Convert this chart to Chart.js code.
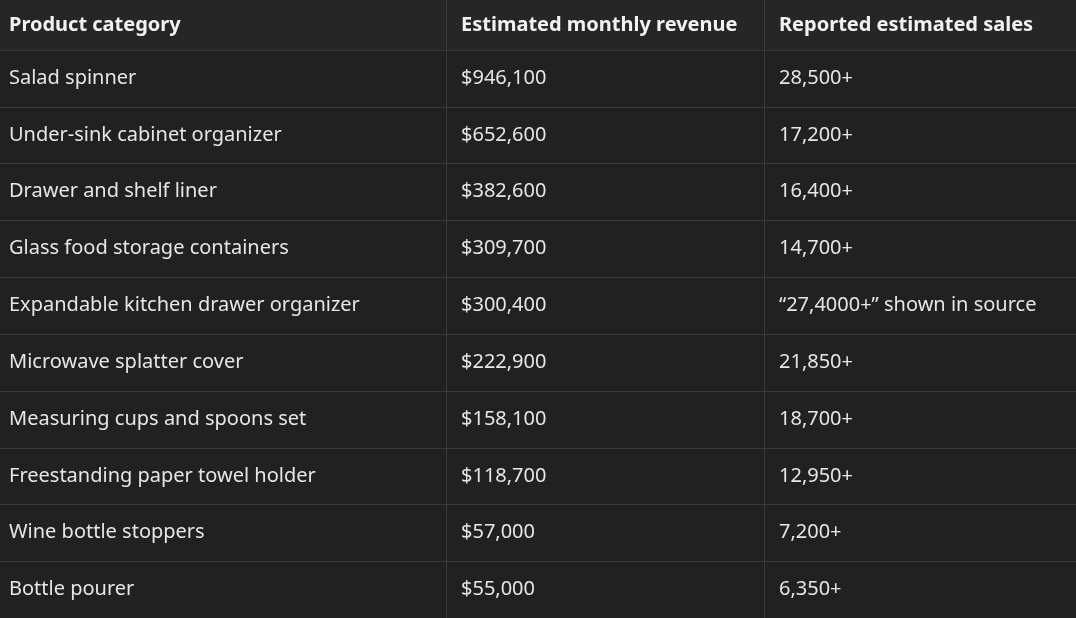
<!DOCTYPE html>
<html><head><meta charset="utf-8">
<script src="https://cdn.jsdelivr.net/npm/chart.js@4"></script>
<style>html,body{margin:0;padding:0;background:#212121;}#w{width:1076px;height:618px;}</style>
</head><body><div id="w"><canvas id="c"></canvas></div>
<script>
const headers = ["Product category", "Estimated monthly revenue", "Reported estimated sales"];
const categories = ["Salad spinner","Under-sink cabinet organizer","Drawer and shelf liner","Glass food storage containers","Expandable kitchen drawer organizer","Microwave splatter cover","Measuring cups and spoons set","Freestanding paper towel holder","Wine bottle stoppers","Bottle pourer"];
const revenue = [946100,652600,382600,309700,300400,222900,158100,118700,57000,55000];
const salesLabels = ["28,500+","17,200+","16,400+","14,700+","\u201c27,4000+\u201d shown in source","21,850+","18,700+","12,950+","7,200+","6,350+"];
const colEdges = [0, 446, 764, 1076];
const fmt = v => "$" + v.toLocaleString("en-US");
const tablePlugin = {
  id: "table",
  afterDraw(chart) {
    const ctx = chart.ctx, x = chart.scales.x, y = chart.scales.y;
    const X = v => x.getPixelForValue(v), Y = v => y.getPixelForValue(v);
    ctx.save();
    ctx.fillStyle = "#262626";
    ctx.fillRect(X(0), Y(-0.875), X(1076) - X(0), Y(0) - Y(-0.875));
    ctx.strokeStyle = "#3a3a3a"; ctx.lineWidth = 1;
    for (let i = 0; i <= categories.length; i++) {
      const py = Math.round(Y(i)) + 0.5;
      ctx.beginPath(); ctx.moveTo(X(0), py); ctx.lineTo(X(1076), py); ctx.stroke();
    }
    [1, 2].forEach(k => { const px = Math.round(X(colEdges[k])) + 0.5; ctx.beginPath(); ctx.moveTo(px, Y(-0.875)); ctx.lineTo(px, Y(10)); ctx.stroke(); });
    ctx.textBaseline = "middle";
    ctx.fillStyle = "#f2f2f2"; ctx.font = "bold 20px 'Noto Sans'";
    headers.forEach((h, k) => ctx.fillText(h, X(colEdges[k]) + (k ? 15 : 9), Y(-0.4375)));
    ctx.fillStyle = "#e6e6e6"; ctx.font = "20px 'Noto Sans'";
    categories.forEach((c, i) => {
      const py = Y(i + 0.5);
      ctx.fillText(c, X(colEdges[0]) + 9, py);
      ctx.fillText(fmt(revenue[i]), X(colEdges[1]) + 15, py);
      ctx.fillText(salesLabels[i], X(colEdges[2]) + 15, py);
    });
    ctx.restore();
  }
};
new Chart(document.getElementById("c"), {
  type: "scatter",
  data: { datasets: [{ data: [] }] },
  options: {
    responsive: true, maintainAspectRatio: false, animation: false,
    layout: { padding: 0 },
    plugins: { legend: { display: false }, tooltip: { enabled: false } },
    scales: {
      x: { type: "linear", min: 0, max: 1076, display: false },
      y: { type: "linear", min: -0.875, max: 10, reverse: true, display: false }
    }
  },
  plugins: [tablePlugin]
});
</script></body></html>
